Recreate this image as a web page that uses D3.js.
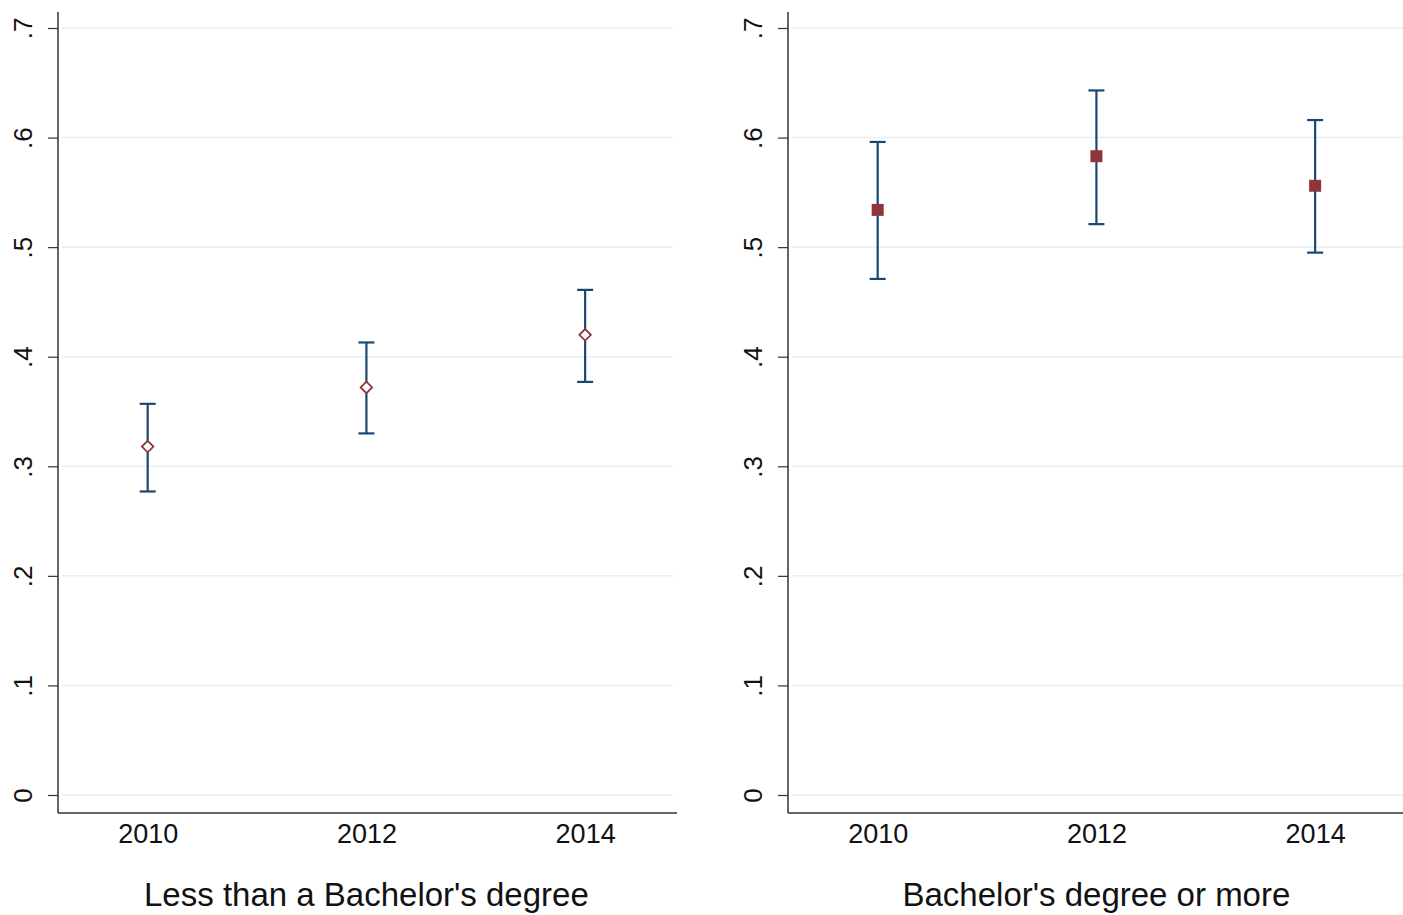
<!DOCTYPE html>
<html>
<head>
<meta charset="utf-8">
<script src="https://cdn.jsdelivr.net/npm/d3@7"></script>
<style>
  body { margin: 0; background: #fff; }
  svg { display: block; font-family: "Liberation Sans", Arial, Helvetica, sans-serif; }
</style>
</head>
<body>
<svg id="chart" width="1403" height="915"></svg>
<script>
// Survey years and estimates (share) with 95% confidence bounds
const years = [2010, 2012, 2014];
const yTicks = [0, 0.1, 0.2, 0.3, 0.4, 0.5, 0.6, 0.7];
const yTickLabels = ["0", ".1", ".2", ".3", ".4", ".5", ".6", ".7"];

const lessBA_est = [0.318, 0.372, 0.420];
const lessBA_lo  = [0.277, 0.330, 0.377];
const lessBA_hi  = [0.357, 0.413, 0.461];

const BAplus_est = [0.534, 0.583, 0.556];
const BAplus_lo  = [0.471, 0.521, 0.495];
const BAplus_hi  = [0.596, 0.643, 0.616];

const panelTitles = ["Less than a Bachelor's degree", "Bachelor's degree or more"];

const panels = [
  { title: panelTitles[0], est: lessBA_est, lo: lessBA_lo, hi: lessBA_hi, marker: "diamond", left: 58, right: 677 },
  { title: panelTitles[1], est: BAplus_est, lo: BAplus_lo, hi: BAplus_hi, marker: "square", left: 788, right: 1407 }
];

const svg = d3.select("#chart");
const plotTop = 12, plotBottom = 813;
const y = d3.scaleLinear().domain([0, 0.7]).range([795, 28]);

const navy = "#1a476f", maroon = "#90353b", axisCol = "#333", textCol = "#111";

panels.forEach(p => {
  const x = d3.scaleLinear().domain([2009.18, 2014.84]).range([p.left, p.right]);
  const g = svg.append("g");

  // horizontal grid lines
  g.selectAll("line.grid").data(yTicks).join("line")
    .attr("class", "grid")
    .attr("x1", p.left + 4).attr("x2", p.right - 4)
    .attr("y1", d => y(d)).attr("y2", d => y(d))
    .attr("stroke", "#eaeef2").attr("stroke-width", 1.5);

  // y axis
  const yAxis = d3.axisLeft(y).tickValues(yTicks)
    .tickFormat((d, i) => yTickLabels[i]).tickSize(10).tickPadding(12);
  const ya = g.append("g").attr("transform", `translate(${p.left},0)`).call(yAxis);
  ya.select(".domain").remove();
  ya.selectAll(".tick line").attr("stroke", axisCol).attr("stroke-width", 1.2);
  ya.selectAll(".tick text")
    .attr("font-size", 26).attr("fill", textCol)
    .attr("text-anchor", "middle")
    .attr("x", 0).attr("dy", 0)
    .attr("transform", "translate(-35,0) rotate(-90)")
    .attr("dominant-baseline", "central");
  g.append("line").attr("x1", p.left).attr("x2", p.left)
    .attr("y1", plotTop).attr("y2", plotBottom)
    .attr("stroke", axisCol).attr("stroke-width", 1.5);

  // x axis
  const xAxis = d3.axisBottom(x).tickValues(years).tickFormat(d3.format("d")).tickSize(0).tickPadding(10);
  const xa = g.append("g").attr("transform", `translate(0,${plotBottom})`).call(xAxis);
  xa.select(".domain").remove();
  xa.selectAll(".tick text").attr("font-size", 27).attr("fill", textCol)
    .attr("dy", null).attr("y", 30);
  g.append("line").attr("x1", p.left).attr("x2", p.right)
    .attr("y1", plotBottom).attr("y2", plotBottom)
    .attr("stroke", axisCol).attr("stroke-width", 1.5);

  // panel title
  g.append("text").attr("x", x(2012))
    .attr("y", 906).attr("text-anchor", "middle")
    .attr("font-size", 33).attr("fill", textCol).text(p.title);

  // confidence intervals
  const cap = 8;
  years.forEach((yr, i) => {
    const cx = x(yr);
    g.append("line").attr("x1", cx).attr("x2", cx)
      .attr("y1", y(p.lo[i])).attr("y2", y(p.hi[i]))
      .attr("stroke", navy).attr("stroke-width", 2.2);
    [p.lo[i], p.hi[i]].forEach(v => {
      g.append("line").attr("x1", cx - cap).attr("x2", cx + cap)
        .attr("y1", y(v)).attr("y2", y(v))
        .attr("stroke", navy).attr("stroke-width", 2.2);
    });
  });

  // point estimates
  if (p.marker === "diamond") {
    g.selectAll("path.mk").data(years).join("path")
      .attr("class", "mk")
      .attr("d", d3.symbol().type(d3.symbolDiamond2).size(85))
      .attr("transform", (d, i) => `translate(${x(d)},${y(p.est[i])})`)
      .attr("fill", "#fff").attr("stroke", maroon).attr("stroke-width", 1.8);
  } else {
    g.selectAll("rect.mk").data(years).join("rect")
      .attr("class", "mk")
      .attr("x", d => x(d) - 6).attr("y", (d, i) => y(p.est[i]) - 6)
      .attr("width", 12).attr("height", 12)
      .attr("fill", maroon);
  }
});
</script>
</body>
</html>
